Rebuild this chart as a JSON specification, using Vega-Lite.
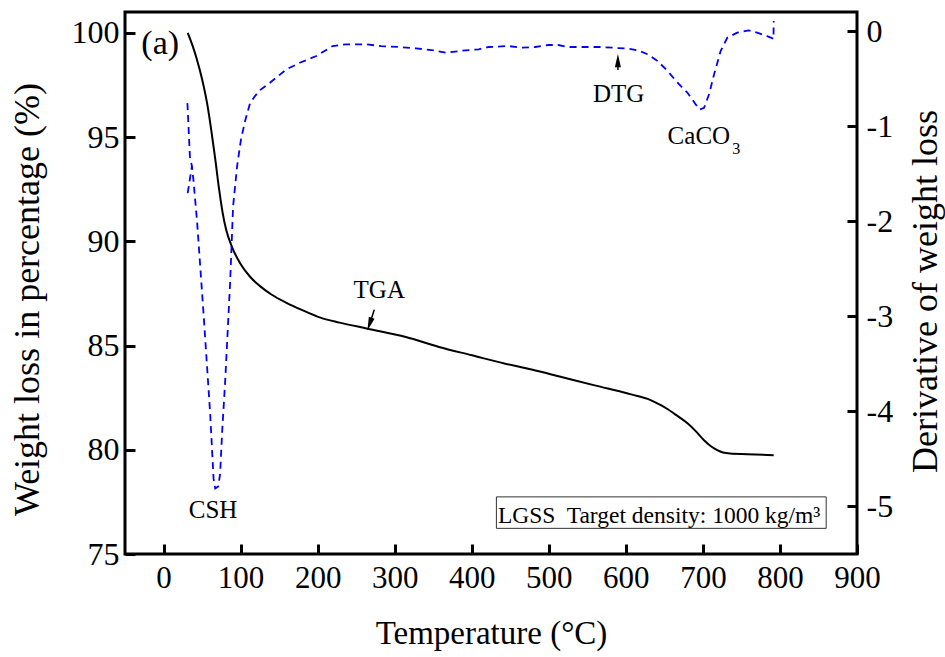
{
  "$schema": "https://vega.github.io/schema/vega-lite/v6.json",
  "width": 732,
  "height": 542,
  "autosize": {"type": "none"},
  "padding": {"left": 125, "top": 12, "right": 88, "bottom": 103},
  "background": "white",
  "config": {
    "font": "Liberation Serif",
    "view": {"stroke": "black", "strokeWidth": 3},
    "axis": {
      "domain": false,
      "tickColor": "black", "tickWidth": 3, "tickSize": 10, "offset": -10,
      "labelColor": "black", "titleColor": "black",
      "labelFont": "Liberation Serif", "titleFont": "Liberation Serif",
      "labelFontSize": 31, "titleFontSize": 33, "titleFontWeight": "normal",
      "grid": false, "labelFlush": false, "labelOverlap": false
    },
    "text": {"font": "Liberation Serif", "color": "black"}
  },
  "datasets": {
    "tga": [
      {"T": 31.4, "w": 100.0}, {"T": 38.0, "w": 99.35}, {"T": 43.5, "w": 98.70}, {"T": 49.9, "w": 97.80},
      {"T": 56.4, "w": 96.65}, {"T": 61.9, "w": 95.35}, {"T": 67.1, "w": 93.95}, {"T": 72.3, "w": 92.45},
      {"T": 76.8, "w": 91.35}, {"T": 81.3, "w": 90.55}, {"T": 88.6, "w": 89.75}, {"T": 99.4, "w": 88.95},
      {"T": 112.3, "w": 88.30}, {"T": 125.2, "w": 87.85}, {"T": 140.0, "w": 87.45}, {"T": 159.6, "w": 87.05},
      {"T": 180.0, "w": 86.70}, {"T": 202.6, "w": 86.35}, {"T": 228.4, "w": 86.10}, {"T": 264.9, "w": 85.81},
      {"T": 314.5, "w": 85.41}, {"T": 357.4, "w": 84.93}, {"T": 400.4, "w": 84.53}, {"T": 443.5, "w": 84.13},
      {"T": 477.8, "w": 83.85}, {"T": 516.5, "w": 83.49}, {"T": 559.6, "w": 83.09}, {"T": 602.6, "w": 82.70},
      {"T": 615.0, "w": 82.58}, {"T": 628.4, "w": 82.44}, {"T": 637.0, "w": 82.30}, {"T": 645.5, "w": 82.14},
      {"T": 655.0, "w": 81.93}, {"T": 662.8, "w": 81.73}, {"T": 671.0, "w": 81.52}, {"T": 680.0, "w": 81.27},
      {"T": 690.0, "w": 80.92}, {"T": 701.5, "w": 80.46}, {"T": 710.0, "w": 80.18}, {"T": 718.7, "w": 79.98},
      {"T": 726.0, "w": 79.87}, {"T": 735.5, "w": 79.82}, {"T": 757.4, "w": 79.79}, {"T": 791.9, "w": 79.74}
    ],
    "dtg": [
      {"T": 31.0, "d": -0.758, "seg": "a"}, {"T": 34.2, "d": -1.316, "seg": "a"}, {"T": 36.8, "d": -1.421, "seg": "a"},
      {"T": 38.7, "d": -1.558, "seg": "a"}, {"T": 43.5, "d": -2.0, "seg": "a"}, {"T": 52.0, "d": -2.979, "seg": "a"},
      {"T": 60.6, "d": -4.032, "seg": "a"}, {"T": 64.9, "d": -4.705, "seg": "a"}, {"T": 67.1, "d": -4.811, "seg": "a"},
      {"T": 71.0, "d": -4.789, "seg": "a"}, {"T": 73.5, "d": -4.653, "seg": "a"}, {"T": 76.1, "d": -4.211, "seg": "a"},
      {"T": 80.0, "d": -3.684, "seg": "a"}, {"T": 86.5, "d": -2.632, "seg": "a"}, {"T": 90.3, "d": -1.842, "seg": "a"},
      {"T": 95.5, "d": -1.421, "seg": "a"}, {"T": 100.6, "d": -1.137, "seg": "a"}, {"T": 105.8, "d": -0.947, "seg": "a"},
      {"T": 112.3, "d": -0.758, "seg": "a"}, {"T": 118.7, "d": -0.684, "seg": "a"}, {"T": 125.2, "d": -0.621, "seg": "a"},
      {"T": 138.1, "d": -0.544, "seg": "a"}, {"T": 159.6, "d": -0.403, "seg": "a"}, {"T": 176.8, "d": -0.334, "seg": "a"},
      {"T": 198.3, "d": -0.263, "seg": "a"}, {"T": 219.4, "d": -0.158, "seg": "a"}, {"T": 237.0, "d": -0.140, "seg": "a"},
      {"T": 262.8, "d": -0.140, "seg": "a"}, {"T": 282.2, "d": -0.158, "seg": "a"}, {"T": 305.8, "d": -0.168, "seg": "a"},
      {"T": 327.4, "d": -0.182, "seg": "a"}, {"T": 351.0, "d": -0.203, "seg": "a"}, {"T": 366.1, "d": -0.228, "seg": "a"},
      {"T": 391.9, "d": -0.203, "seg": "a"}, {"T": 409.0, "d": -0.193, "seg": "a"}, {"T": 421.9, "d": -0.168, "seg": "a"},
      {"T": 447.7, "d": -0.158, "seg": "a"}, {"T": 464.5, "d": -0.176, "seg": "a"}, {"T": 482.2, "d": -0.168, "seg": "a"},
      {"T": 499.4, "d": -0.147, "seg": "a"}, {"T": 512.3, "d": -0.147, "seg": "a"}, {"T": 525.2, "d": -0.168, "seg": "a"},
      {"T": 551.0, "d": -0.168, "seg": "a"}, {"T": 567.7, "d": -0.168, "seg": "a"}, {"T": 589.7, "d": -0.179, "seg": "a"},
      {"T": 602.6, "d": -0.184, "seg": "a"}, {"T": 615.5, "d": -0.203, "seg": "a"}, {"T": 628.4, "d": -0.245, "seg": "a"},
      {"T": 641.3, "d": -0.316, "seg": "a"}, {"T": 654.2, "d": -0.421, "seg": "a"}, {"T": 667.1, "d": -0.544, "seg": "a"},
      {"T": 680.0, "d": -0.649, "seg": "a"}, {"T": 690.7, "d": -0.772, "seg": "a"}, {"T": 695.5, "d": -0.826, "seg": "a"},
      {"T": 701.5, "d": -0.807, "seg": "a"}, {"T": 708.0, "d": -0.666, "seg": "a"}, {"T": 714.5, "d": -0.456, "seg": "a"},
      {"T": 723.0, "d": -0.211, "seg": "a"}, {"T": 731.6, "d": -0.071, "seg": "a"}, {"T": 744.5, "d": -0.018, "seg": "a"},
      {"T": 759.6, "d": 0.007, "seg": "a"}, {"T": 770.3, "d": -0.018, "seg": "a"}, {"T": 783.2, "d": -0.053, "seg": "a"},
      {"T": 789.7, "d": -0.074, "seg": "a"}, {"T": 791.6, "d": -0.084, "seg": "a"}, {"T": 791.9, "d": 0.105, "seg": "a"},
      {"T": 36.8, "d": -1.421, "seg": "b"}, {"T": 31.4, "d": -1.705, "seg": "b"}
    ]
  },
  "layer": [
    {
      "encoding": {
        "x": {"field": "T", "type": "quantitative", "scale": {"domain": [-50, 900], "nice": false, "zero": false},
              "axis": {"values": [0, 100, 200, 300, 400, 500, 600, 700, 800, 900], "title": "Temperature (°C)",
                       "labelPadding": 9, "titleX": 366, "titleY": 89, "titleAlign": "center", "titleBaseline": "middle"}},
        "y": {"field": "w", "type": "quantitative", "scale": {"domain": [75, 101], "nice": false, "zero": false},
              "axis": {"orient": "left", "values": [75, 80, 85, 90, 95, 100], "title": "Weight loss in percentage (%)",
                       "labelPadding": 6, "labelFontSize": 32, "titleFontSize": 36, "titleAngle": -90, "titleX": -108, "titleY": 287,
                       "titleAlign": "center", "titleBaseline": "middle"}}
      },
      "layer": [
        {
          "data": {"name": "tga"},
          "mark": {"type": "line", "color": "black", "strokeWidth": 2, "interpolate": "monotone"}
        },
        {
          "data": {"values": [{"T": -4.3, "w": 98.99, "label": "(a)"}]},
          "mark": {"type": "text", "fontSize": 34, "align": "center", "baseline": "alphabetic"},
          "encoding": {"text": {"field": "label"}}
        },
        {
          "data": {"values": [{"T": 280, "w": 87.26, "label": "TGA"}, {"T": 64.3, "w": 76.72, "label": "CSH"}]},
          "mark": {"type": "text", "fontSize": 25, "align": "center", "baseline": "alphabetic"},
          "encoding": {"text": {"field": "label"}}
        },
        {
          "data": {"values": [{"T": 273.5, "w": 86.72, "T2": 268.2, "w2": 86.1}]},
          "mark": {"type": "rule", "color": "black", "strokeWidth": 1.5},
          "encoding": {"x2": {"field": "T2"}, "y2": {"field": "w2"}}
        },
        {
          "data": {"values": [{"T": 267.4, "w": 86.03}]},
          "mark": {"type": "point", "shape": "M-0.45,1L0,-1L0.45,1Z", "filled": true, "color": "black", "opacity": 1, "size": 180, "angle": 198.5}
        },
        {
          "data": {"values": [{"T": 432, "w": 77.74, "T2": 860, "w2": 76.23}]},
          "mark": {"type": "rect", "fill": "white", "stroke": "#333333", "strokeWidth": 1},
          "encoding": {"x2": {"field": "T2"}, "y2": {"field": "w2"}}
        },
        {
          "data": {"values": [{"T": 434, "w": 76.47, "label": "LGSS\u00a0 Target density: 1000 kg/m³"}]},
          "mark": {"type": "text", "fontSize": 23.5, "align": "left", "baseline": "alphabetic"},
          "encoding": {"text": {"field": "label"}}
        }
      ]
    },
    {
      "encoding": {
        "x": {"field": "T", "type": "quantitative", "scale": {"domain": [-50, 900], "nice": false, "zero": false}},
        "y": {"field": "d", "type": "quantitative", "scale": {"domain": [-5.5, 0.2], "nice": false, "zero": false},
              "axis": {"orient": "right", "values": [-5, -4, -3, -2, -1, 0], "title": "Derivative of weight loss",
                       "labelExpr": "datum.value < 0 ? '-' + abs(datum.value) : '0'",
                       "labelPadding": 9, "labelFontSize": 32, "titleFontSize": 36, "titleAngle": -90, "titleX": 78, "titleY": 279,
                       "titleAlign": "center", "titleBaseline": "middle"}}
      },
      "layer": [
        {
          "data": {"name": "dtg"},
          "mark": {"type": "line", "color": "#0000ff", "strokeWidth": 1.8, "strokeDash": [7, 5]},
          "encoding": {"detail": {"field": "seg"}}
        },
        {
          "data": {"values": [{"T": 590.7, "d": -0.747, "label": "DTG"}]},
          "mark": {"type": "text", "fontSize": 25, "align": "center", "baseline": "alphabetic"},
          "encoding": {"text": {"field": "label"}}
        },
        {
          "data": {"values": [{"T": 654.2, "d": -1.189, "label": "CaCO"}]},
          "mark": {"type": "text", "fontSize": 25, "align": "left", "baseline": "alphabetic"},
          "encoding": {"text": {"field": "label"}}
        },
        {
          "data": {"values": [{"T": 738.1, "d": -1.295, "label": "3"}]},
          "mark": {"type": "text", "fontSize": 16, "align": "left", "baseline": "alphabetic"},
          "encoding": {"text": {"field": "label"}}
        },
        {
          "data": {"values": [{"T": 589.7, "d": -0.41, "d2": -0.30}]},
          "mark": {"type": "rule", "color": "black", "strokeWidth": 1.5},
          "encoding": {"y2": {"field": "d2"}}
        },
        {
          "data": {"values": [{"T": 589.7, "d": -0.311}]},
          "mark": {"type": "point", "shape": "M-0.45,1L0,-1L0.45,1Z", "filled": true, "color": "black", "opacity": 1, "size": 180}
        }
      ]
    }
  ],
  "resolve": {"scale": {"y": "independent"}}
}
